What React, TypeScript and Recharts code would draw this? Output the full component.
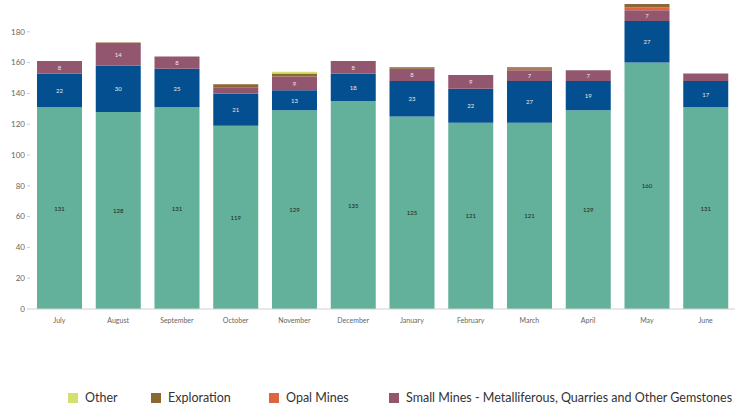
import { BarChart, Bar, XAxis, YAxis, LabelList } from "recharts";

const months = ["July", "August", "September", "October", "November", "December", "January", "February", "March", "April", "May", "June"];
const coalMines = [131, 128, 131, 119, 129, 135, 125, 121, 121, 129, 160, 131];
const largeMines = [22, 30, 25, 21, 13, 18, 23, 22, 27, 19, 27, 17];
const smallMines = [8, 14, 8, 4, 9, 8, 8, 9, 7, 7, 7, 5];
const opalMines = [0, 0, 0, 0, 0, 0, 0, 0, 1, 0, 2, 0];
const exploration = [0, 1, 0, 2, 2, 0, 1, 0, 1, 0, 2, 0];
const other = [0, 0, 0, 0, 1, 0, 0, 0, 0, 0, 0, 0];
const yTicks = [0, 20, 40, 60, 80, 100, 120, 140, 160, 180];

const series = [
  { key: "coal", name: "Coal Mines", color: "#63b09b", values: coalMines, labelColor: "#222" },
  { key: "large", name: "Large Mines", color: "#034f8f", values: largeMines, labelColor: "#e8e8e8" },
  { key: "small", name: "Small Mines - Metalliferous, Quarries and Other Gemstones", color: "#93566f", values: smallMines, labelColor: "#e8e8e8" },
  { key: "opal", name: "Opal Mines", color: "#df6441", values: opalMines, labelColor: "#fff" },
  { key: "exploration", name: "Exploration", color: "#8c6633", values: exploration, labelColor: "#fff" },
  { key: "other", name: "Other", color: "#d3e06f", values: other, labelColor: "#222" },
];

// only the legend entries visible in the reference, with their slot widths
const legendOrder = ["other", "exploration", "opal", "small"];
const legendWidths: Record<string, number> = { other: 83, exploration: 118, opal: 120, small: 346 };

const data = months.map((m, i) => {
  const row: Record<string, string | number> = { month: m };
  series.forEach((s) => {
    row[s.key] = s.values[i];
  });
  return row;
});

const font = "Lato, 'DejaVu Sans', sans-serif";

function makeLabel(color: string) {
  return (props: any) => {
    const { x, y, width, height, value } = props;
    if (!value || value < 6) return null;
    return (
      <text
        x={x + width / 2}
        y={y + height / 2}
        textAnchor="middle"
        dominantBaseline="central"
        fontSize={6}
        fontFamily={font}
        fill={color}
      >
        {value}
      </text>
    );
  };
}

export default function App() {
  return (
    <div style={{ position: "absolute", left: 0, top: 0, width: 735, height: 406, overflow: "hidden", background: "#fff" }}>
      <BarChart
        width={735}
        height={340}
        data={data}
        margin={{ top: 1, right: 0, bottom: 0, left: 0 }}
        barSize={45}
      >
        <XAxis
          dataKey="month"
          height={31}
          tickLine={false}
          axisLine={{ stroke: "#d0d0d0" }}
          tick={{ fontSize: 7, fill: "#666", fontFamily: font }}
          tickMargin={3}
        />
        <YAxis
          width={30}
          domain={[0, 200]}
          ticks={yTicks}
          axisLine={false}
          tickSize={3}
          tickLine={{ stroke: "#ccc" }}
          tick={{ fontSize: 8, fill: "#666", fontFamily: font }}
        />
        {series.map((s) => (
          <Bar key={s.key} dataKey={s.key} name={s.name} stackId="a" fill={s.color} isAnimationActive={false}>
            <LabelList dataKey={s.key} content={makeLabel(s.labelColor)} />
          </Bar>
        ))}
      </BarChart>
      <div
        style={{
          position: "absolute",
          left: 68,
          top: 391,
          display: "flex",
          fontFamily: font,
          fontSize: 12.5,
          lineHeight: "14px",
          color: "#333",
        }}
      >
        {legendOrder.map((k) => {
          const s = series.find((x) => x.key === k)!;
          return (
            <div key={k} style={{ display: "flex", alignItems: "center", width: legendWidths[k], whiteSpace: "nowrap" }}>
              <span style={{ display: "inline-block", width: 10, height: 10, background: s.color, marginRight: 7, flex: "none" }} />
              <span>{s.name}</span>
            </div>
          );
        })}
      </div>
    </div>
  );
}
